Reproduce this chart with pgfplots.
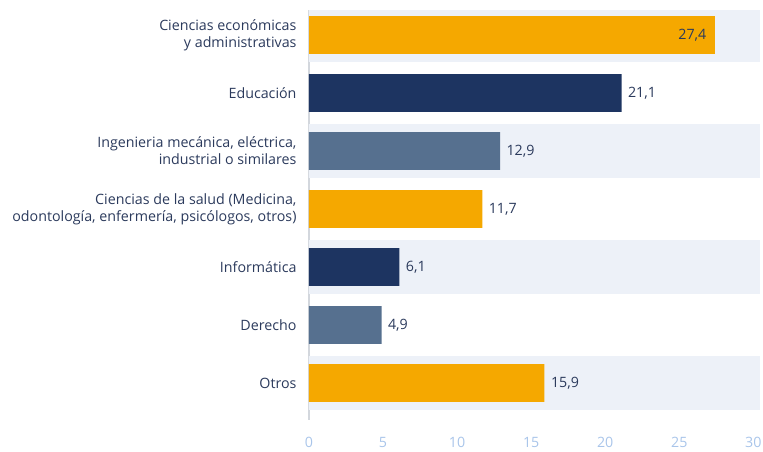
\documentclass[border=0pt]{standalone}
\usepackage{pgfplots}
\pgfplotsset{compat=1.18}
\usepackage{fontspec}
\setmainfont{Open Sans}
\definecolor{orangebar}{HTML}{F5A800}
\definecolor{navybar}{HTML}{1D3461}
\definecolor{slatebar}{HTML}{56708F}
\definecolor{band}{HTML}{EDF1F8}
\definecolor{txt}{HTML}{2B3A5C}
\definecolor{ticktxt}{HTML}{A9C5EA}
\definecolor{axline}{HTML}{D3D7DD}

\begin{document}
\begin{tikzpicture}
\path[use as bounding box] (-309bp,-32bp) rectangle (454bp,420bp);
\begin{axis}[
    at={(0,0)}, anchor=south west,
    scale only axis, width=451bp, height=410bp,
    xmin=0, xmax=30.45,
    ymin=-0.431, ymax=6.638, y dir=reverse,
    axis lines*=left,
    x axis line style={draw=none},
    y axis line style={axline, line width=1.5bp},
    major tick length=0pt,
    xtick={0,5,...,30},
    ytick={0,...,6},
    yticklabels={
        {Ciencias económicas\\y administrativas\ },
        {Educación},
        {Ingenieria mecánica, eléctrica,\\industrial o similares},
        {Ciencias de la salud (Medicina,\\odontología, enfermería, psicólogos, otros)},
        {Informática},
        {Derecho},
        {Otros}},
    font=\fontsize{14.3}{17}\selectfont,
    yticklabel style={align=right, text=txt, xshift=-9bp},
    xticklabel style={text=ticktxt, yshift=-14bp},
    /pgf/number format/assume math mode=true,
    /pgf/number format/.cd, use comma, fixed, precision=1,
]
% background bands
\addplot[xbar, bar width=0.93, bar shift=0pt, fill=band, draw=none]
    coordinates {(30.45,0) (30.45,2) (30.45,4) (30.45,6)};
% bars
\addplot[xbar, bar width=0.655, bar shift=0pt, fill=orangebar, draw=none,
    nodes near coords, nodes near coords style={anchor=east, text=txt, xshift=-5bp}]
    coordinates {(27.4,0)};
\addplot[xbar, bar width=0.655, bar shift=0pt, fill=orangebar, draw=none,
    nodes near coords, nodes near coords style={text=txt, xshift=3bp}]
    coordinates {(11.7,3) (15.9,6)};
\addplot[xbar, bar width=0.655, bar shift=0pt, fill=navybar, draw=none,
    nodes near coords, nodes near coords style={text=txt, xshift=3bp}]
    coordinates {(21.1,1) (6.1,4)};
\addplot[xbar, bar width=0.655, bar shift=0pt, fill=slatebar, draw=none,
    nodes near coords, nodes near coords style={text=txt, xshift=3bp}]
    coordinates {(12.9,2) (4.9,5)};
\end{axis}
\end{tikzpicture}
\end{document}
